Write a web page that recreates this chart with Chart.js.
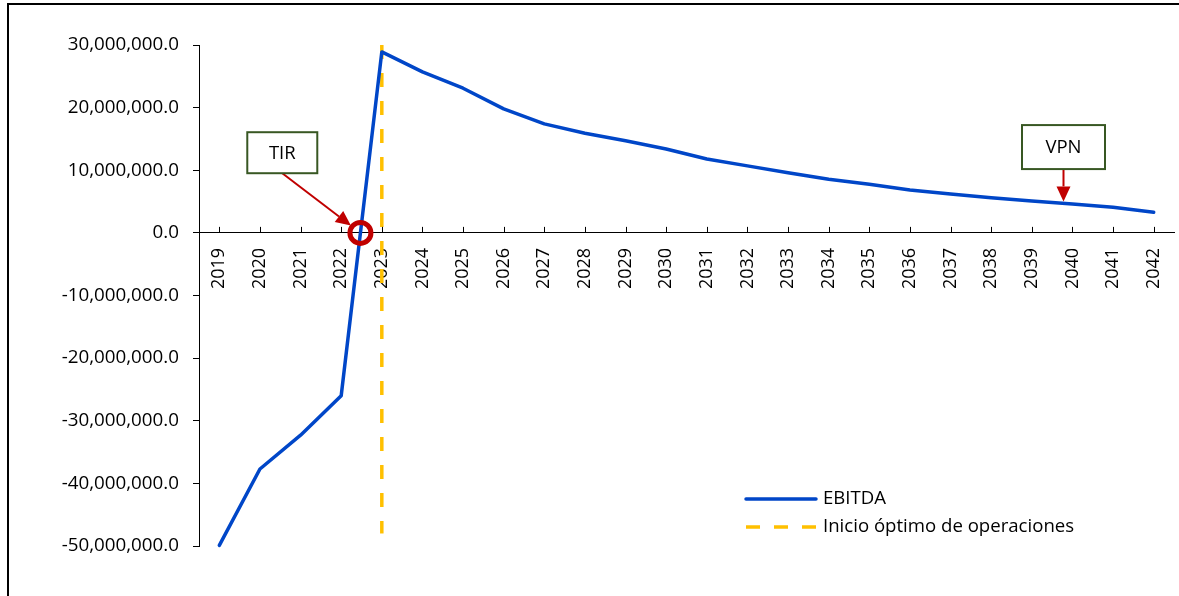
<!DOCTYPE html>
<html>
<head>
<meta charset="utf-8">
<title>EBITDA</title>
<script src="https://cdn.jsdelivr.net/npm/chart.js@4.4.1/dist/chart.umd.min.js"></script>
<style>
    html, body { margin: 0; padding: 0; background: #fff; }
    #wrap { width: 1179px; height: 596px; position: relative; }
</style>
</head>
<body>
<div id="wrap"><canvas id="ebitdaChart" width="1179" height="596"></canvas></div>
<script>
// data
const years = ['2019', '2020', '2021', '2022', '2023', '2024', '2025', '2026', '2027', '2028', '2029', '2030',
               '2031', '2032', '2033', '2034', '2035', '2036', '2037', '2038', '2039', '2040', '2041', '2042'];
const ebitda = [-49900000, -37700000, -32300000, -26000000, 28900000, 25700000, 23100000, 19800000,
                17400000, 15900000, 14700000, 13400000, 11800000, 10700000, 9600000, 8550000,
                7750000, 6850000, 6200000, 5600000, 5100000, 4600000, 4100000, 3300000];
const startYear = '2023';
const startLineValues = [30000000, -48000000];
const yRange = [-50000000, 30000000];
const yStep = 10000000;
const seriesNames = ['EBITDA', 'Inicio óptimo de operaciones'];

const blue = '#0046C8';
const gold = '#FFC000';
const red = '#C00000';
const green = '#385723';
const font = '"Open Sans", "Noto Sans", sans-serif';

Chart.defaults.font.family = font;
Chart.defaults.font.size = 18;
Chart.defaults.color = '#000';

function drawArrow(ctx, x1, y1, x2, y2) {
    const ang = Math.atan2(y2 - y1, x2 - x1);
    const head = 15, half = 7;
    const bx = x2 - head * Math.cos(ang), by = y2 - head * Math.sin(ang);
    ctx.strokeStyle = red;
    ctx.fillStyle = red;
    ctx.lineWidth = 2;
    ctx.beginPath();
    ctx.moveTo(x1, y1);
    ctx.lineTo(bx, by);
    ctx.stroke();
    ctx.beginPath();
    ctx.moveTo(x2, y2);
    ctx.lineTo(bx + half * Math.sin(ang), by - half * Math.cos(ang));
    ctx.lineTo(bx - half * Math.sin(ang), by + half * Math.cos(ang));
    ctx.closePath();
    ctx.fill();
}

function drawBox(ctx, cx, cy, w, h, text) {
    ctx.fillStyle = '#fff';
    ctx.fillRect(cx - w / 2, cy - h / 2, w, h);
    ctx.strokeStyle = green;
    ctx.lineWidth = 2;
    ctx.strokeRect(cx - w / 2, cy - h / 2, w, h);
    ctx.fillStyle = '#000';
    ctx.font = '18.5px ' + font;
    ctx.textAlign = 'center';
    ctx.textBaseline = 'middle';
    ctx.fillText(text, cx, cy + 1);
}

// frame, x ticks, TIR / VPN notes and legend
const extras = {
    id: 'extras',
    beforeDraw(chart) {
        const ctx = chart.ctx;
        ctx.save();
        ctx.fillStyle = '#000';
        ctx.fillRect(7, 3, chart.width - 7, 2);
        ctx.fillRect(7, 3, 2, chart.height - 3);
        ctx.restore();
    },
    afterDatasetsDraw(chart) {
        const ctx = chart.ctx;
        const xs = chart.scales.x, ys = chart.scales.y;
        const x0 = xs.getPixelForValue(0);
        const step = xs.getPixelForValue(1) - x0;
        const xAt = i => x0 + i * step;
        const zero = ys.getPixelForValue(0);
        ctx.save();

        // tick marks pointing up from the x axis
        ctx.strokeStyle = '#000';
        ctx.lineWidth = 1;
        ctx.beginPath();
        years.forEach((y, i) => {
            const px = Math.round(xAt(i)) + 0.5;
            ctx.moveTo(px, zero - 6);
            ctx.lineTo(px, zero);
        });
        ctx.stroke();

        // TIR: where EBITDA crosses zero
        let cross = 0;
        for (let i = 0; i < ebitda.length - 1; i++) {
            if (ebitda[i] < 0 && ebitda[i + 1] >= 0) {
                cross = i + (-ebitda[i]) / (ebitda[i + 1] - ebitda[i]);
                break;
            }
        }
        const cx = xAt(cross);
        const tirX = xAt(1.55), tirY = ys.getPixelForValue(12800000);
        const dx = cx - tirX, dy = zero - (tirY + 20.5), len = Math.hypot(dx, dy);
        drawArrow(ctx, tirX, tirY + 20.5, tirX + dx * (len - 12) / len, tirY + 20.5 + dy * (len - 12) / len);
        ctx.strokeStyle = red;
        ctx.lineWidth = 5;
        ctx.beginPath();
        ctx.arc(cx, zero, 10.5, 0, Math.PI * 2);
        ctx.stroke();
        drawBox(ctx, tirX, tirY, 70, 41, 'TIR');

        // VPN
        const vIdx = 20.78;
        const vX = xAt(vIdx), vY = ys.getPixelForValue(13700000);
        const lo = Math.floor(vIdx);
        const lineVal = ebitda[lo] + (ebitda[lo + 1] - ebitda[lo]) * (vIdx - lo);
        drawArrow(ctx, vX, vY + 22, vX, ys.getPixelForValue(lineVal) - 2);
        drawBox(ctx, vX, vY, 83, 44, 'VPN');

        // legend
        const lx = 746, ly = 499;
        ctx.lineWidth = 3.5;
        ctx.lineCap = 'round';
        ctx.strokeStyle = blue;
        ctx.beginPath();
        ctx.moveTo(lx, ly);
        ctx.lineTo(lx + 70, ly);
        ctx.stroke();
        ctx.lineCap = 'butt';
        ctx.strokeStyle = gold;
        ctx.setLineDash([14, 14]);
        ctx.beginPath();
        ctx.moveTo(lx, ly + 28);
        ctx.lineTo(lx + 70, ly + 28);
        ctx.stroke();
        ctx.setLineDash([]);
        ctx.fillStyle = '#000';
        ctx.font = '18.6px ' + font;
        ctx.textAlign = 'left';
        ctx.textBaseline = 'middle';
        ctx.fillText(seriesNames[0], lx + 77, ly);
        ctx.fillText(seriesNames[1], lx + 77, ly + 28);
        ctx.restore();
    }
};

document.addEventListener('DOMContentLoaded', function() {
    const ctx = document.getElementById('ebitdaChart').getContext('2d');
    new Chart(ctx, {
        type: 'line',
        data: {
            labels: years,
            datasets: [{
                label: seriesNames[0],
                data: ebitda,
                borderColor: blue,
                borderWidth: 3.5,
                borderJoinStyle: 'round',
                borderCapStyle: 'round',
                pointRadius: 0,
                tension: 0,
                clip: false,
                order: 1
            }, {
                label: seriesNames[1],
                data: startLineValues.map(v => ({ x: startYear, y: v })),
                borderColor: gold,
                borderWidth: 3.5,
                borderDash: [14, 14],
                pointRadius: 0,
                clip: false,
                order: 2
            }]
        },
        options: {
            responsive: false,
            animation: false,
            layout: { autoPadding: false, padding: { left: 0, top: 45, right: 5, bottom: 50 } },
            plugins: {
                legend: { display: false },
                tooltip: { enabled: false }
            },
            scales: {
                x: {
                    type: 'category',
                    position: { y: 0 },
                    offset: true,
                    // invisible tick marks only push the labels down; visible ones are drawn upward in the plugin
                    grid: { display: true, drawOnChartArea: false, drawTicks: true, tickLength: 15, tickColor: 'rgba(0,0,0,0)' },
                    border: { display: true, color: '#000', width: 1 },
                    ticks: {
                        autoSkip: false,
                        minRotation: 90,
                        maxRotation: 90,
                        padding: 0,
                        color: '#000'
                    }
                },
                y: {
                    min: yRange[0],
                    max: yRange[1],
                    grid: { drawOnChartArea: false, tickLength: 6, color: '#000' },
                    border: { display: true, color: '#000', width: 1 },
                    afterFit: function(scale) { scale.width = 199; },
                    ticks: {
                        stepSize: yStep,
                        padding: 14,
                        color: '#000',
                        font: { size: 18.8 },
                        callback: v => v.toLocaleString('en-US', { minimumFractionDigits: 1, maximumFractionDigits: 1 })
                    }
                }
            }
        },
        plugins: [extras]
    });
});
</script>
</body>
</html>
